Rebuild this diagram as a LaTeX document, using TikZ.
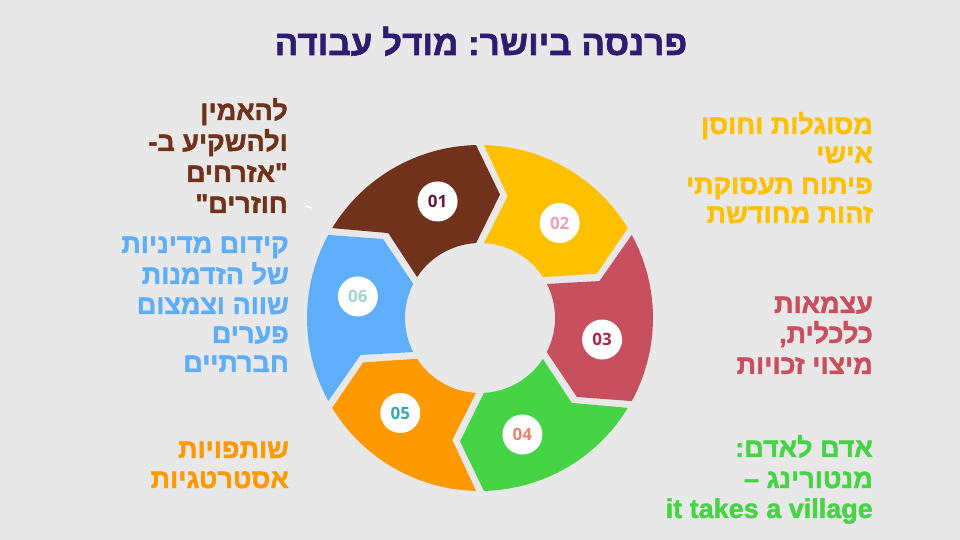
\documentclass[tikz,border=0pt]{standalone}
\usepackage{fontspec}
\setmainfont{Liberation Sans}
\newfontfamily\heb[Script=Hebrew, BoldFeatures={FakeBold=1.6}]{Liberation Sans}
\newfontfamily\numfont{Open Sans}
\TeXXeTstate=1
\frenchspacing
\definecolor{bg}{RGB}{232,232,232}
\definecolor{ctitle}{RGB}{46,28,112}
\definecolor{cbrown}{RGB}{112,50,26}
\definecolor{cyellow}{RGB}{255,192,0}
\definecolor{cred}{RGB}{200,80,94}
\definecolor{cgreen}{RGB}{70,212,70}
\definecolor{corange}{RGB}{255,153,0}
\definecolor{cblue}{RGB}{94,174,250}
\definecolor{nA}{RGB}{100,26,58}
\definecolor{nB}{RGB}{232,164,182}
\definecolor{nC}{RGB}{168,40,70}
\definecolor{nD}{RGB}{230,132,112}
\definecolor{nE}{RGB}{60,168,170}
\definecolor{nF}{RGB}{160,214,200}
\tikzset{
  lbl/.style={inner sep=0pt, anchor=base east, font=\heb\bfseries\frenchspacing\fontsize{27}{30}\selectfont},
  numc/.style={circle, fill=white, minimum size=40pt, inner sep=0pt, font=\numfont\bfseries\fontsize{17}{17}\selectfont},
}
\begin{document}
\begin{tikzpicture}[x=1pt,y=1pt]
\fill[bg] (0,0) rectangle (960,540);
\useasboundingbox (0,0) rectangle (960,540);
% title
\node[inner sep=0pt, anchor=base, text=ctitle, font=\heb\bfseries\frenchspacing\fontsize{35}{38}\selectfont] (title) at (481,540-55) {\beginR פרנסה ביושר: מודל עבודה\endR};
% ring
\begin{scope}[shift={(480,222)}]
\foreach \A/\col/\ncol/\num in {150/cbrown/nA/01, 90/cyellow/nB/02, 30/cred/nC/03, -30/cgreen/nD/04, -90/corange/nE/05, -150/cblue/nF/06}{
  \pgfmathsetmacro\B{\A-60}
  \fill[\col] (\A-1.3:173) arc[start angle=\A-1.3, end angle=\B+1.3, radius=173]
     -- (\B-11+1.8:125) -- (\B+3:75)
     arc[start angle=\B+3, end angle=\A-3, radius=75]
     -- (\A-11-1.8:125) -- cycle;
  \node[numc, text=\ncol] (n\num) at (\A-40:124) {\num};
}
\end{scope}
% small white mark
\draw[white, line width=1.5pt, line cap=round] (306,540-206) -- (312,540-208);
% top-left (brown)
\node[lbl, text=cbrown] (b1) at (288,540-120) {\beginR להאמין\endR};
\node[lbl, text=cbrown] (b2) at (288,540-151) {\beginR ולהשקיע ב-\endR};
\node[lbl, text=cbrown] (b3) at (288,540-182) {\beginR "אזרחים\endR};
\node[lbl, text=cbrown] (b4) at (288,540-213) {\beginR חוזרים"\endR};
% top-right (yellow)
\node[lbl, text=cyellow] (y1) at (873,540-134) {\beginR מסוגלות וחוסן\endR};
\node[lbl, text=cyellow] (y2) at (873,540-163) {\beginR אישי\endR};
\node[lbl, text=cyellow] (y3) at (873,540-194) {\beginR פיתוח תעסוקתי\endR};
\node[lbl, text=cyellow] (y4) at (873,540-223) {\beginR זהות מחודשת\endR};
% left (blue)
\node[lbl, text=cblue] (l1) at (289,540-253) {\beginR קידום מדיניות\endR};
\node[lbl, text=cblue] (l2) at (289,540-284) {\beginR של הזדמנות\endR};
\node[lbl, text=cblue] (l3) at (289,540-314) {\beginR שווה וצמצום\endR};
\node[lbl, text=cblue] (l4) at (289,540-343) {\beginR פערים\endR};
\node[lbl, text=cblue] (l5) at (289,540-372) {\beginR חברתיים\endR};
% right (red)
\node[lbl, text=cred] (r1) at (873,540-313) {\beginR עצמאות\endR};
\node[lbl, text=cred] (r2) at (873,540-343) {\beginR כלכלית,\endR};
\node[lbl, text=cred] (r3) at (873,540-374) {\beginR מיצוי זכויות\endR};
% bottom-left (orange)
\node[lbl, text=corange] (o1) at (289,540-458) {\beginR שותפויות\endR};
\node[lbl, text=corange] (o2) at (289,540-488) {\beginR אסטרטגיות\endR};
% bottom-right (green)
\node[lbl, text=cgreen] (g1) at (873,540-457) {\beginR אדם לאדם:\endR};
\node[lbl, text=cgreen] (g2) at (873,540-488) {\beginR מנטורינג –\endR};
\node[lbl, text=cgreen] (g3) at (873,540-518) {it takes a village};
\end{tikzpicture}
\end{document}
